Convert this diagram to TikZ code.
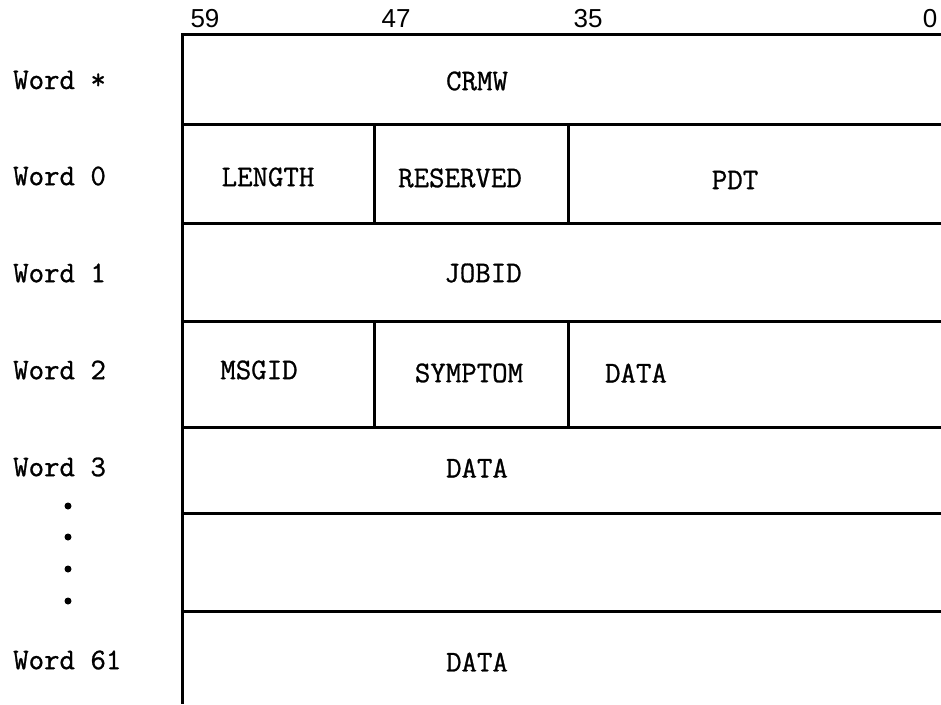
\documentclass[tikz,border=0pt]{standalone}
\usepackage{fontspec}
\newfontfamily\numfont{Liberation Sans}
\newfontfamily\typefont[BoldFont={Latin Modern Mono},BoldFeatures={FakeBold=0.9}]{Latin Modern Mono}
\begin{document}
\begin{tikzpicture}[x=1pt,y=-1pt,
  rule/.style={line width=3pt},
  field/.style={inner sep=0pt,font=\fontsize{30}{32}\selectfont\typefont\bfseries},
  wordlbl/.style={inner sep=0pt,anchor=west,font=\fontsize{30}{32}\selectfont\typefont\bfseries},
  bitlbl/.style={inner sep=0pt,font=\fontsize{26}{28}\selectfont\numfont},
  vdot/.style={circle,fill=black,inner sep=0pt,minimum size=7pt}]
\useasboundingbox (0,0) rectangle (941,704);

% horizontal rules between words
\foreach \yy in {34,124,223,321,427,513,611}
  \draw[rule] (181,\yy) -- (941,\yy);
% left edge of the word stack
\draw[rule] (182,33) -- (182,704);
% field dividers in words 0 and 2
\foreach \xx in {374,568} {
  \draw[rule] (\xx,124) -- (\xx,223);
  \draw[rule] (\xx,321) -- (\xx,427);
}

% bit positions
\node[bitlbl] (b59) at (205,19) {59};
\node[bitlbl] (b47) at (396,19) {47};
\node[bitlbl] (b35) at (588,19) {35};
\node[bitlbl] (b0)  at (930,19) {0};

% word labels
\node[wordlbl] (wstar) at (13,80)  {Word *};
\node[wordlbl] (w0)    at (13,176) {Word 0};
\node[wordlbl] (w1)    at (13,273) {Word 1};
\node[wordlbl] (w2)    at (13,370) {Word 2};
\node[wordlbl] (w3)    at (13,467) {Word 3};
\node[wordlbl] (w61)   at (13,660) {Word 61};
\foreach \yy [count=\i] in {506,537,569,601}
  \node[vdot] (dot\i) at (68,\yy) {};

% field contents
\node[field] (crmw)    at (477,81)  {CRMW};
\node[field] (length)  at (268,177) {LENGTH};
\node[field] (resv)    at (460,178) {RESERVED};
\node[field] (pdt)     at (735,180) {PDT};
\node[field] (jobid)   at (483,273) {JOBID};
\node[field] (msgid)   at (259,370) {MSGID};
\node[field] (symptom) at (469,373) {SYMPTOM};
\node[field] (data2)   at (636,373) {DATA};
\node[field] (data3)   at (477,468) {DATA};
\node[field] (data61)  at (477,662) {DATA};
\end{tikzpicture}
\end{document}
